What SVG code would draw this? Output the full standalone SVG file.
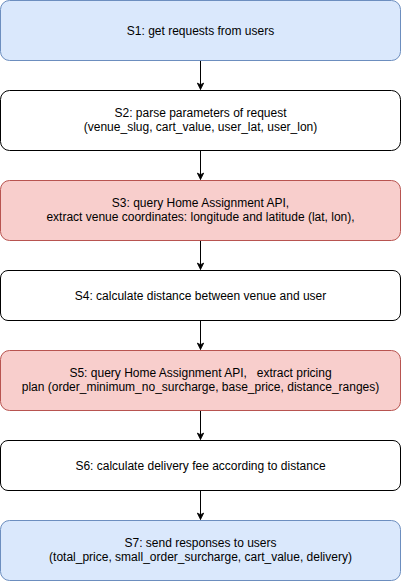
<svg xmlns="http://www.w3.org/2000/svg" width="401" height="581" viewBox="0 0 401 581">
  <defs>
    <style>
      .box { stroke-width: 1; }
      .plain { fill: #ffffff; stroke: #000000; }
      .blue { fill: #dae8fc; stroke: #6c8ebf; }
      .red { fill: #f8cecc; stroke: #b85450; }
      text { font-family: "Liberation Sans", Arial, Helvetica, sans-serif; font-size: 12px; fill: #000000; text-anchor: middle; white-space: pre; }
      .edge { stroke: #000000; stroke-width: 1; fill: none; marker-end: url(#arrow); }
    </style>
    <marker id="arrow" viewBox="0 0 10 10" refX="9" refY="5" markerWidth="8" markerHeight="8" markerUnits="userSpaceOnUse" orient="auto">
      <path d="M1,1 L9,5 L1,9 L3,5 Z" fill="#000000" stroke="#000000" stroke-width="1"/>
    </marker>
  </defs>

  <g id="connectors">
    <line class="edge" x1="200.5" y1="60.5" x2="200.5" y2="89.5"/>
    <line class="edge" x1="200.5" y1="150.5" x2="200.5" y2="179.5"/>
    <line class="edge" x1="200.5" y1="240.5" x2="200.5" y2="269.5"/>
    <line class="edge" x1="200.5" y1="320.5" x2="200.5" y2="349.5"/>
    <line class="edge" x1="200.5" y1="410.5" x2="200.5" y2="439.5"/>
    <line class="edge" x1="200.5" y1="490.5" x2="200.5" y2="519.5"/>
  </g>

  <g id="s1">
    <rect class="box blue" x="0.5" y="0.5" width="400" height="60" rx="9" ry="9"/>
    <text x="200.5" y="34.5">S1: get requests from users</text>
  </g>

  <g id="s2">
    <rect class="box plain" x="0.5" y="90.5" width="400" height="60" rx="9" ry="9"/>
    <text x="200.5" y="117">S2: parse parameters of request</text>
    <text x="200.5" y="131">(venue_slug, cart_value, user_lat, user_lon)</text>
  </g>

  <g id="s3">
    <rect class="box red" x="0.5" y="180.5" width="400" height="60" rx="9" ry="9"/>
    <text x="200.5" y="207">S3: query Home Assignment API,</text>
    <text x="200.5" y="221">extract venue coordinates: longitude and latitude (lat, lon),</text>
  </g>

  <g id="s4">
    <rect class="box plain" x="0.5" y="270.5" width="400" height="50" rx="7.5" ry="7.5"/>
    <text x="200.5" y="299.5">S4: calculate distance between venue and user</text>
  </g>

  <g id="s5">
    <rect class="box red" x="0.5" y="350.5" width="400" height="60" rx="9" ry="9"/>
    <text x="200.5" y="377">S5: query Home Assignment API,   extract pricing</text>
    <text x="200.5" y="391">plan (order_minimum_no_surcharge, base_price, distance_ranges)</text>
  </g>

  <g id="s6">
    <rect class="box plain" x="0.5" y="440.5" width="400" height="50" rx="7.5" ry="7.5"/>
    <text x="200.5" y="469.5">S6: calculate delivery fee according to distance</text>
  </g>

  <g id="s7">
    <rect class="box blue" x="0.5" y="520.5" width="400" height="60" rx="9" ry="9"/>
    <text x="200.5" y="547">S7: send responses to users</text>
    <text x="200.5" y="561">(total_price, small_order_surcharge, cart_value, delivery)</text>
  </g>
</svg>
